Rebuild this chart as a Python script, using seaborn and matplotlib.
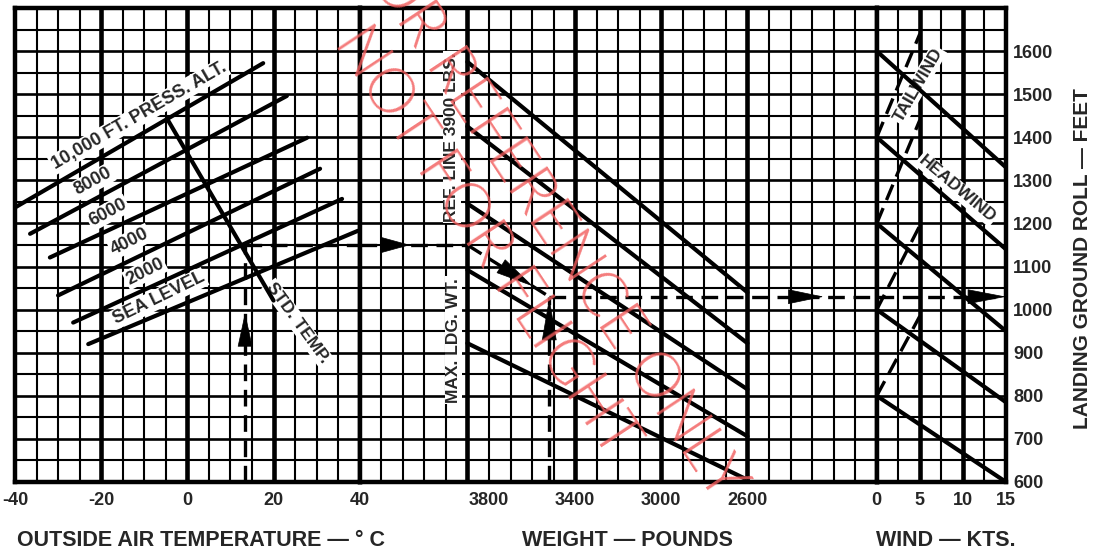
import numpy as np
import pandas as pd
import matplotlib
matplotlib.use("Agg")
import matplotlib.pyplot as plt
import seaborn as sns

# ---------------- data ----------------
# pressure-altitude lines, temperature panel (deg C, landing roll ft)
alt_names = ["10,000 FT. PRESS. ALT.", "8000", "6000", "4000", "2000", "SEA LEVEL"]
alt_t_start = [-40.0, -36.5, -31.9, -30.0, -26.5, -23.0]
alt_ft_start = [1237, 1176, 1121, 1033, 970, 920]
alt_t_end = [17.6, 23.1, 27.8, 30.8, 35.9, 39.6]
alt_ft_end = [1572, 1496, 1399, 1327, 1257, 1183]
alt_label_t = [-11.2, -21.9, -18.4, -13.3, -9.8, -6.6]
alt_label_ft = [1450, 1297, 1225, 1158, 1088, 1026]
alt_label_rot = [30, 29, 28, 27, 27, 26]

std_temp_t = [-4.7, 20.0]
std_temp_ft = [1443, 1021]

# weight panel guide lines (ft at 3900 lbs ref line and at 2600 lbs)
wt_ref = 3900
wt_low = 2600
wt_ft_ref = [1575, 1425, 1246, 1092, 922]
wt_ft_low = [1040, 922, 815, 706, 605]

# wind panel: headwind lines 0 -> 15 kts, tailwind (dashed) 0 -> 5 kts
wind_ft_0 = [1600, 1400, 1200, 1000, 800]
wind_ft_15 = [1330, 1140, 950, 785, 600]
tail_ft_0 = [1400, 1200, 1000, 800]
tail_ft_5 = [1640, 1440, 1195, 985]

# worked example
ex_temp = 13.4
ex_ft_alt = 1150
ex_weight = 3520
ex_ft_wt = 1030

# tick labels
temp_ticks = [-40, -20, 0, 20, 40]
temp_labels = ["-40", "-20", "0", "20", "40"]
wt_ticks = [3800, 3400, 3000, 2600]
wt_labels = ["3800", "3400", "3000", "2600"]
wind_ticks = [0, 5, 10, 15]
wind_labels = ["0", "5", "10", "15"]
roll_ticks = [600, 700, 800, 900, 1000, 1100, 1200, 1300, 1400, 1500, 1600]

# ---------------- style ----------------
sns.set_theme(style="white")
plt.rcParams["font.family"] = ["Liberation Sans", "DejaVu Sans"]
plt.rcParams["font.weight"] = "bold"

W, H = 1097, 551
L, B, T, R = 15, 482, 8, 1006
c = (R - L) / 46.0

fig = plt.figure(figsize=(W / 100, H / 100), dpi=100)
fig.patch.set_facecolor("white")


def rect(u0, u1):
    return [(L + u0 * c) / W, (H - B) / H, (u1 - u0) * c / W, (B - T) / H]


ax_t = fig.add_axes(rect(0, 16))
ax_w = fig.add_axes(rect(16, 40))
ax_v = fig.add_axes(rect(40, 46))
axes = [ax_t, ax_w, ax_v]

GRID_MINOR = 1.5
GRID_MAJOR = 3.3
LINE_W = 3.0

for ax in axes:
    ax.set_ylim(600, 1700)
    for y in np.arange(650, 1700, 50):
        lw = 1.9 if y % 100 == 0 else GRID_MINOR
        ax.axhline(y, color="black", lw=lw, zorder=1)
    for s in ax.spines.values():
        s.set_color("black")
        s.set_linewidth(3.2)
        s.set_zorder(6)
    ax.tick_params(length=0, labelsize=13, pad=7)
    ax.set_facecolor("white")

ax_t.set_xlim(-40, 40)
ax_w.set_xlim(4400, 2000)
ax_v.set_xlim(0, 15)

# vertical grid
for x in np.arange(-35, 40, 5):
    ax_t.axvline(x, color="black", lw=GRID_MAJOR if x % 20 == 0 else GRID_MINOR, zorder=1)
for x in np.arange(4300, 2000, -100):
    ax_w.axvline(x, color="black", lw=GRID_MAJOR if x in (3900, 3400, 3000, 2600) else GRID_MINOR, zorder=1)
for x in np.arange(2.5, 15, 2.5):
    ax_v.axvline(x, color="black", lw=GRID_MAJOR if x in (5, 10) else GRID_MINOR, zorder=1)

# ---------------- data lines ----------------
alt_df = pd.DataFrame({"alt": alt_names * 2,
                       "temp": alt_t_start + alt_t_end,
                       "roll": alt_ft_start + alt_ft_end})
sns.lineplot(data=alt_df, x="temp", y="roll", units="alt", estimator=None,
             color="black", linewidth=LINE_W, ax=ax_t, legend=False, sort=False, zorder=4)
std_df = pd.DataFrame({"temp": std_temp_t, "roll": std_temp_ft})
sns.lineplot(data=std_df, x="temp", y="roll", estimator=None, color="black",
             linewidth=LINE_W, ax=ax_t, sort=False, zorder=4)

wt_df = pd.DataFrame({"line": list(range(len(wt_ft_ref))) * 2,
                      "weight": [wt_ref] * len(wt_ft_ref) + [wt_low] * len(wt_ft_low),
                      "roll": wt_ft_ref + wt_ft_low})
sns.lineplot(data=wt_df, x="weight", y="roll", units="line", estimator=None,
             color="black", linewidth=LINE_W, ax=ax_w, legend=False, sort=False, zorder=4)

wind_df = pd.DataFrame({"line": list(range(len(wind_ft_0))) * 2,
                        "wind": [0] * len(wind_ft_0) + [15] * len(wind_ft_15),
                        "roll": wind_ft_0 + wind_ft_15})
sns.lineplot(data=wind_df, x="wind", y="roll", units="line", estimator=None,
             color="black", linewidth=LINE_W, ax=ax_v, legend=False, sort=False, zorder=4)

DASH = (0, (5, 2.6))
for f0, f5 in zip(tail_ft_0, tail_ft_5):
    ax_v.plot([0, 5], [f0, f5], color="black", lw=2.4, ls=DASH, zorder=4)

# example path (dashed)
EXW = 2.4
ax_t.plot([ex_temp, ex_temp], [600, ex_ft_alt], color="black", lw=EXW, ls=DASH, zorder=4)
ax_t.plot([ex_temp, 40], [ex_ft_alt, ex_ft_alt], color="black", lw=EXW, ls=DASH, zorder=4)
ax_w.plot([4400, wt_ref], [ex_ft_alt, ex_ft_alt], color="black", lw=EXW, ls=DASH, zorder=4)
ax_w.plot([wt_ref, ex_weight], [ex_ft_alt, ex_ft_wt], color="black", lw=EXW, ls=DASH, zorder=4)
ax_w.plot([ex_weight, ex_weight], [600, ex_ft_wt], color="black", lw=EXW, ls=DASH, zorder=4)
ax_w.plot([ex_weight, 2000], [ex_ft_wt, ex_ft_wt], color="black", lw=EXW, ls=DASH, zorder=4)
ax_v.plot([0, 15], [ex_ft_wt, ex_ft_wt], color="black", lw=EXW, ls=DASH, zorder=4)


def arrow(ax, tip, base, hl, hw):
    ax.annotate("", xy=tip, xytext=base,
                arrowprops=dict(arrowstyle=f"-|>,head_length={hl},head_width={hw}",
                                color="black", lw=0.5, shrinkA=0, shrinkB=0,
                                mutation_scale=10), zorder=5)


arrow(ax_t, (ex_temp, 993), (ex_temp, 920), 2.3, 0.5)
arrow(ax_w, (4166, ex_ft_alt), (4292, ex_ft_alt), 2.0, 0.55)
arrow(ax_w, (3595, 1054), (3735, 1098), 2.6, 0.55)
arrow(ax_w, (ex_weight, ex_ft_wt - 2), (ex_weight, 932), 2.9, 0.5)
arrow(ax_w, (2247, ex_ft_wt), (2405, ex_ft_wt), 2.4, 0.5)
arrow(ax_v, (15, ex_ft_wt), (10.8, ex_ft_wt), 2.6, 0.5)

# ---------------- in-chart labels ----------------
box = dict(facecolor="white", edgecolor="none", pad=1.0)
for name, tx, fy, rot in zip(alt_names, alt_label_t, alt_label_ft, alt_label_rot):
    ax_t.text(tx, fy, name, rotation=rot, rotation_mode="anchor", ha="center", va="center",
              fontsize=13, fontweight="bold", bbox=box, zorder=3)
ax_t.text(25.5, 970, "STD. TEMP.", rotation=-54, rotation_mode="anchor", ha="center",
          va="center", fontsize=12.5, fontweight="bold", bbox=box, zorder=3)
ax_w.text(3972, 1401, "REF. LINE 3900 LBS.", rotation=90, rotation_mode="anchor",
          ha="center", va="center", fontsize=12.5, fontweight="bold", bbox=box, zorder=3)
ax_w.text(3965, 929, "MAX. LDG. WT.", rotation=90, rotation_mode="anchor",
          ha="center", va="center", fontsize=12.5, fontweight="bold", bbox=box, zorder=3)
ax_v.text(4.8, 1521, "TAILWIND", rotation=60, rotation_mode="anchor", ha="center",
          va="center", fontsize=12.5, fontweight="bold", bbox=box, zorder=3)
ax_v.text(9.3, 1280, "HEADWIND", rotation=-40, rotation_mode="anchor", ha="center",
          va="center", fontsize=12.5, fontweight="bold", bbox=box, zorder=3)

# ---------------- ticks ----------------
ax_t.set_xticks(temp_ticks)
ax_t.set_xticklabels(temp_labels, fontweight="bold")
ax_w.set_xticks(wt_ticks)
ax_w.set_xticklabels(wt_labels, fontweight="bold")
ax_v.set_xticks(wind_ticks)
ax_v.set_xticklabels(wind_labels, fontweight="bold")
for ax in axes:
    ax.set_xlabel("")
    ax.set_ylabel("")
    ax.set_yticks(roll_ticks)
ax_t.tick_params(axis="y", labelleft=False, labelright=False)
ax_w.tick_params(axis="y", labelleft=False, labelright=False)
ax_v.yaxis.tick_right()
ax_v.set_yticklabels([str(v) for v in roll_ticks], fontweight="bold")
ax_v.tick_params(axis="y", labelleft=False, labelright=True, pad=5)
for ax in axes:
    ax.set_ylim(600, 1700)

# ---------------- axis titles ----------------
fig.text(201 / W, 1 - 541 / H, "OUTSIDE AIR TEMPERATURE — ° C", ha="center", va="center",
         fontsize=15.5, fontweight="bold")
fig.text(627 / W, 1 - 541 / H, "WEIGHT — POUNDS", ha="center", va="center",
         fontsize=15.5, fontweight="bold")
fig.text(946 / W, 1 - 541 / H, "WIND — KTS.", ha="center", va="center",
         fontsize=15.5, fontweight="bold")
fig.text(1082 / W, 1 - 259 / H, "LANDING GROUND ROLL — FEET", rotation=90, ha="center",
         va="center", fontsize=15, fontweight="bold")

# ---------------- watermark ----------------
wm = dict(rotation=-56.5, rotation_mode="anchor", ha="center", va="center",
          fontsize=45, color="#f25c5c", alpha=0.8, family=["Lato", "Liberation Sans"],
          fontweight=300, zorder=20)
fig.text(546 / W, 1 - 216 / H, "FOR REFERENCE ONLY", **wm)
fig.text(485 / W, 1 - 242 / H, "NOT FOR FLIGHT", **wm)

fig.savefig("out.png", dpi=100, facecolor="white")
